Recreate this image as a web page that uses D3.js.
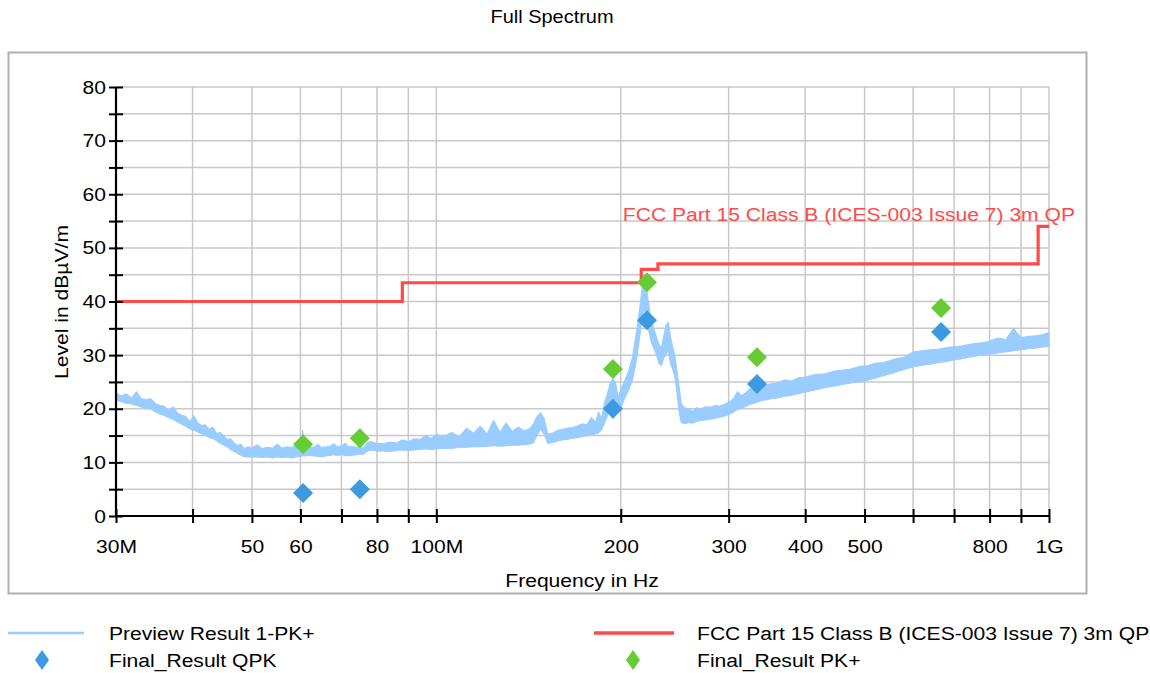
<!DOCTYPE html>
<html>
<head>
<meta charset="utf-8">
<script src="https://cdn.jsdelivr.net/npm/d3@7"></script>
<style>
  html, body { margin: 0; padding: 0; background: #fff; }
  svg { display: block; font-family: "Liberation Sans", Arial, sans-serif; }
</style>
</head>
<body>
<svg id="chart" width="1150" height="673"></svg>
<script>
// ---------- data ----------
const xTickValues = [30,40,50,60,70,80,90,100,200,300,400,500,600,700,800,900,1000];
const xTickLabels = {30:"30M",50:"50",60:"60",80:"80",100:"100M",200:"200",300:"300",400:"400",500:"500",800:"800",1000:"1G"};
const yTickValues = [0,10,20,30,40,50,60,70,80];
const yMinorTicks = [5,15,25,35,45,55,65,75];

// Preview Result 1-PK+ (envelope of the sweep, MHz / dBµV/m)
const traceFreq = [30,30.6,31.2,31.8,32.4,33,33.6,34.2,34.8,35.4,36,36.6,37.2,37.8,38.4,39,39.6,40.2,40.8,41.4,42,42.6,43.2,43.8,44.4,45,45.6,46.2,46.8,47.4,48,48.6,49.2,50,
  51,52,53,54,55,56,57,58,59,60,60.5,61,62,63,64,65,66,67,68,69,70,71,72,73,74,75,76,77,78,80,
  82,84,86,88,90,92,94,96,98,100,103,106,109,112,115,118,121,124,127,130,133,136,139,142,144,
  146,148,150,152,155,158,161,164,167,170,173,176,179,182,184,186,188,190,192,194,196,198,200,
  203,206,209,212,215,217,219,221,223,225,227,229,231,233,235,237,239,241,243,245,247,249,251,254,
  258,262,266,270,275,280,285,290,295,300,305,310,315,320,325,330,335,340,
  350,360,370,380,390,400,415,430,445,460,475,490,505,520,535,550,565,580,600,620,640,660,680,700,720,740,760,780,800,825,850,875,900,925,950,975,1000];
const traceLow = [21.6,21.3,21.0,20.9,20.6,20.3,20.1,19.9,19.4,19.0,18.7,18.3,18.0,17.5,17.1,16.7,16.2,16.0,15.6,15.3,15.0,14.6,14.4,14.0,13.5,13.2,12.8,12.3,12.0,11.6,11.3,11.0,11.0,11.0,
  11.0,10.9,11.0,10.8,11.0,10.9,11.0,10.8,11.0,11.1,11.2,11.2,11.3,11.2,11.1,11.0,11.2,11.3,11.4,11.3,11.4,11.3,11.2,11.3,11.4,11.5,11.5,12.0,12.3,12.1,
  12.1,12.0,12.2,12.3,12.2,12.3,12.4,12.5,12.4,12.5,12.6,12.6,12.8,12.8,12.9,12.9,13.0,13.1,13.0,13.1,13.2,13.2,13.3,13.4,13.6,
  15.0,16.2,15.2,13.5,13.7,14.0,14.2,14.3,14.5,14.6,14.8,14.9,15.1,15.3,15.5,16.0,17.2,18.5,20.3,21.4,21.0,19.6,20.0,
  22.0,23.4,25.3,28.8,33.8,37.5,38.5,36.0,33.5,32.0,31.0,29.8,28.4,28.0,29.4,30.0,31.0,28.4,27.4,26.0,23.0,19.5,17.4,17.2,
  17.4,17.3,17.6,17.8,17.9,18.0,18.2,18.4,18.6,18.9,19.3,19.8,20.1,20.4,20.8,21.0,21.3,21.5,
  21.8,22.0,22.3,22.5,22.8,23.1,23.5,23.9,24.2,24.5,24.8,25.0,25.3,25.7,26.1,26.5,26.9,27.3,27.8,28.1,28.3,28.6,28.8,29.1,29.3,29.6,29.8,30.0,30.2,30.4,30.6,30.8,31.0,31.2,31.3,31.5,31.6];
const traceHigh = [23.0,22.4,22.8,22.0,23.2,21.9,21.7,21.9,21.0,20.6,20.5,19.7,20.4,19.2,18.8,18.6,17.6,18.7,17.4,16.9,17.0,16.2,16.6,15.4,15.6,15.0,14.3,14.4,13.6,13.2,13.4,12.6,12.9,12.7,
  13.3,12.6,12.8,12.7,13.4,12.7,12.9,12.8,13.2,13.0,16.0,13.1,12.9,12.8,13.4,12.8,12.9,13.0,13.5,12.9,13.1,13.6,12.9,13.0,12.8,13.0,12.6,13.6,13.9,13.5,
  13.5,13.8,13.6,14.2,13.9,14.4,14.3,15.0,14.5,15.2,14.9,15.6,14.8,16.4,15.5,16.8,15.3,17.9,15.6,17.4,15.8,16.6,15.9,16.3,17.2,
  18.6,19.3,18.2,15.3,15.5,16.0,16.2,16.4,16.5,16.8,17.2,17.0,18.4,17.6,19.4,18.2,21.0,22.6,24.6,25.6,25.0,22.2,23.6,
  25.2,27.1,29.6,34.2,39.2,43.2,43.8,41.4,38.2,36.0,34.6,33.2,32.0,31.4,33.6,35.6,36.2,33.6,31.6,30.0,27.2,24.2,21.0,20.2,
  20.0,19.6,20.2,20.0,20.4,20.3,20.6,20.5,20.8,21.2,21.8,23.2,22.5,23.0,23.8,23.6,24.0,24.4,
  24.6,24.8,25.4,25.2,25.8,25.9,26.4,26.5,27.0,27.2,27.4,27.9,28.0,28.5,28.6,29.0,29.4,29.6,30.6,30.8,31.0,31.1,31.4,31.6,31.7,32.0,32.2,32.3,32.6,33.2,32.9,35.0,33.3,33.5,33.6,33.8,34.2];

// FCC Part 15 Class B limit (step after)
const limitFreq = [30, 88, 216, 230, 960, 1000];
const limitLevel = [40, 43.5, 46, 47, 54, 54];

// Final results
const qpkFreq = [60.6, 75.0, 194.2, 220.7, 333.7, 666.6];
const qpkLevel = [4.3, 5.0, 20.0, 36.5, 24.6, 34.3];
const pkFreq = [60.6, 75.0, 194.2, 220.7, 333.7, 666.6];
const pkLevel = [13.4, 14.5, 27.4, 43.6, 29.6, 38.8];

// ---------- drawing ----------
const svg = d3.select("#chart");
const FONT = 19, SX = 1.11;
const colTrace = "#99ccff", colLimit = "#ff4a4a", colQpk = "#3d9ae0", colPk = "#66cc33", colGrid = "#c8c8c8";

const x = d3.scaleLog().domain([30, 1000]).range([116, 1049]);
const y = d3.scaleLinear().domain([0, 80]).range([516, 87]);

function label(g, tx, ty, str, opts = {}) {
  return g.append("text")
    .attr("transform", `translate(${tx},${ty}) ${opts.rotate ? "rotate(-90)" : ""} scale(${SX},1)`)
    .attr("text-anchor", opts.anchor || "start")
    .attr("font-size", opts.size || FONT)
    .attr("fill", opts.fill || "#000")
    .text(str);
}

// outer frame
svg.append("rect").attr("x", 8.5).attr("y", 52.5).attr("width", 1078).attr("height", 541)
  .attr("fill", "none").attr("stroke", "#b0b0b0").attr("stroke-width", 2);

// title
label(svg, 552, 23, "Full Spectrum", {anchor: "middle", size: 18});

// grid
const grid = svg.append("g");
grid.selectAll("line.v").data(xTickValues).join("line")
  .attr("x1", d => x(d)).attr("x2", d => x(d)).attr("y1", y(0)).attr("y2", y(80))
  .attr("stroke", colGrid).attr("stroke-width", 1.5);
grid.selectAll("line.h").data(yTickValues.concat(yMinorTicks)).join("line")
  .attr("x1", x(30)).attr("x2", x(1000)).attr("y1", d => y(d)).attr("y2", d => y(d))
  .attr("stroke", colGrid).attr("stroke-width", 1.5);

// trace envelope
const traceData = traceFreq.map((f, i) => ({f, lo: traceLow[i], hi: traceHigh[i]}));
svg.append("path").datum(traceData)
  .attr("d", d3.area().x(d => x(d.f)).y0(d => y(d.lo)).y1(d => y(d.hi)))
  .attr("fill", colTrace).attr("stroke", colTrace).attr("stroke-width", 1);

// limit line
const limitData = limitFreq.map((f, i) => ({f, v: limitLevel[i]}));
svg.append("path").datum(limitData)
  .attr("d", d3.line().x(d => x(d.f)).y(d => y(d.v)).curve(d3.curveStepAfter))
  .attr("fill", "none").attr("stroke", colLimit).attr("stroke-width", 3.2);
label(svg, 1075, 221, "FCC Part 15 Class B (ICES-003 Issue 7) 3m QP", {anchor: "end", fill: colLimit});

// markers
const diamond = "M0,-10L10,0L0,10L-10,0Z";
svg.append("g").selectAll("path").data(qpkFreq.map((f, i) => ({f, v: qpkLevel[i]}))).join("path")
  .attr("d", diamond).attr("transform", d => `translate(${x(d.f)},${y(d.v)})`).attr("fill", colQpk);
svg.append("g").selectAll("path").data(pkFreq.map((f, i) => ({f, v: pkLevel[i]}))).join("path")
  .attr("d", diamond).attr("transform", d => `translate(${x(d.f)},${y(d.v)})`).attr("fill", colPk);

// axes
const xAxis = d3.axisBottom(x).tickValues(xTickValues).tickSize(7).tickPadding(17)
  .tickFormat(d => xTickLabels[d] || "");
const gx = svg.append("g").attr("transform", `translate(0,${y(0)})`).call(xAxis);
gx.select(".domain").attr("stroke", "#000").attr("stroke-width", 2.2).attr("d", `M${x(30)},0H${x(1000)}`);
gx.selectAll(".tick line").attr("y1", -7).attr("y2", 7).attr("stroke", "#000").attr("stroke-width", 2);
gx.selectAll(".tick text").attr("font-size", FONT).attr("font-family", "Liberation Sans, Arial, sans-serif")
  .attr("fill", "#000").attr("transform", `scale(${SX},1)`);

const yAxis = d3.axisLeft(y).tickValues(yTickValues.concat(yMinorTicks)).tickSize(7).tickPadding(2)
  .tickFormat(d => yTickValues.includes(d) ? d : "");
const gy = svg.append("g").attr("transform", `translate(${x(30)},0)`).call(yAxis);
gy.select(".domain").attr("stroke", "#000").attr("stroke-width", 2.2).attr("d", `M0,${y(0)}V${y(80)}`);
gy.selectAll(".tick line").attr("x1", -7).attr("x2", 7).attr("stroke", "#000").attr("stroke-width", 2);
gy.selectAll(".tick text").attr("font-size", FONT).attr("font-family", "Liberation Sans, Arial, sans-serif")
  .attr("fill", "#000").attr("transform", `scale(${SX},1)`);

// axis titles
label(svg, 582, 587, "Frequency in Hz", {anchor: "middle"});
label(svg, 68, 302, "Level in dBµV/m", {anchor: "middle", rotate: true});

// legend
const leg = svg.append("g");
leg.append("line").attr("x1", 8).attr("x2", 84).attr("y1", 633).attr("y2", 633)
  .attr("stroke", colTrace).attr("stroke-width", 2.5);
label(leg, 109, 640, "Preview Result 1-PK+");
leg.append("line").attr("x1", 594).attr("x2", 674).attr("y1", 633).attr("y2", 633)
  .attr("stroke", colLimit).attr("stroke-width", 3.5);
label(leg, 697, 640, "FCC Part 15 Class B (ICES-003 Issue 7) 3m QP");
leg.append("path").attr("d", "M0,-10L7,0L0,10L-7,0Z").attr("transform", "translate(42,660)").attr("fill", colQpk);
label(leg, 109, 667, "Final_Result QPK");
leg.append("path").attr("d", "M0,-10L7,0L0,10L-7,0Z").attr("transform", "translate(633,660)").attr("fill", colPk);
label(leg, 697, 667, "Final_Result PK+");
</script>
</body>
</html>
